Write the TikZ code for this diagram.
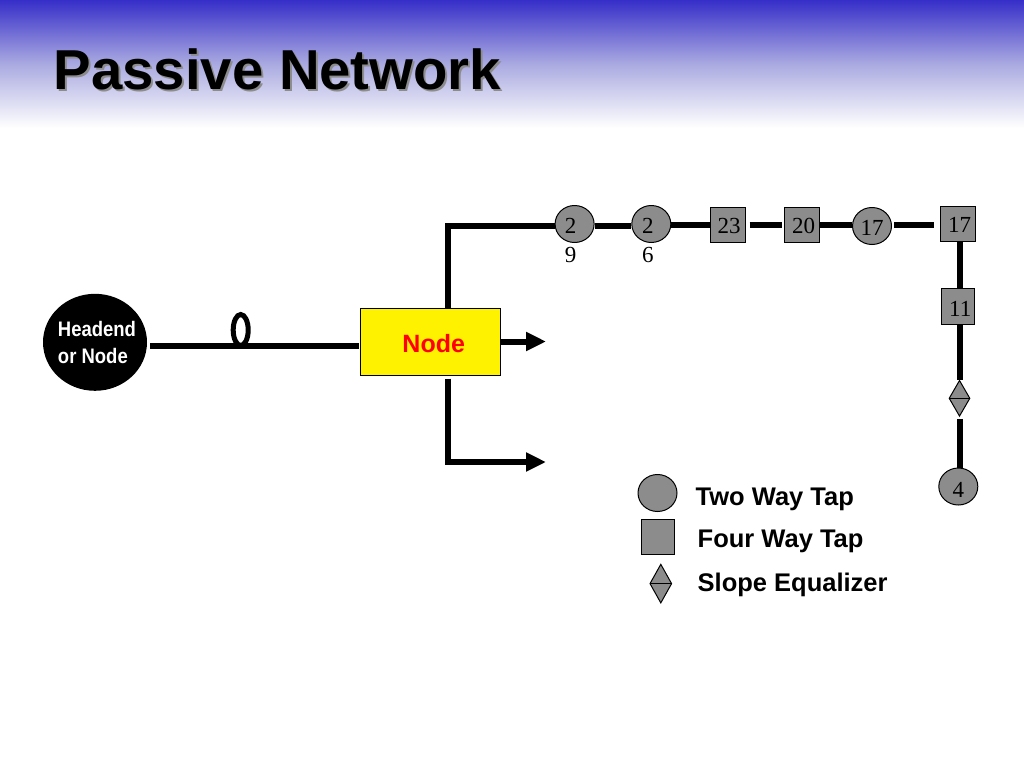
\documentclass[tikz,border=0pt]{standalone}
\usepackage{fontspec}
\setmainfont{Liberation Serif}
\setsansfont{Liberation Sans}
\usetikzlibrary{arrows.meta,shapes.geometric}
\definecolor{tapgray}{RGB}{140,140,140}
\definecolor{bandblue}{RGB}{54,46,200}
\definecolor{bandmid}{RGB}{170,170,225}
\providecommand{\titlefontsize}{\fontsize{56.3pt}{60pt}\selectfont}
\providecommand{\legendfontsize}{\fontsize{25.5pt}{28pt}\selectfont}
\providecommand{\hubfontsize}{\fontsize{25pt}{28pt}\selectfont}
\providecommand{\headfontsize}{\fontsize{21pt}{26.5pt}\selectfont}
\providecommand{\tapfontsize}{\fontsize{23pt}{23pt}\selectfont}
\tikzset{
  wire/.style={line width=6pt},
  feedarrow/.style={wire,-{Triangle[length=20pt,width=18pt]}},
  tapcircle/.style={ellipse,draw,line width=1pt,fill=tapgray,inner sep=0,minimum width=39pt,minimum height=37pt,font=\tapfontsize,text height=18.5pt,text depth=0pt},
  tapsquare/.style={rectangle,draw,line width=1pt,fill=tapgray,inner sep=0,minimum width=35pt,minimum height=35pt,font=\tapfontsize,text height=18.5pt,text depth=0pt},
  eqdiamond/.style={diamond,draw,line width=1pt,fill=tapgray,inner sep=0,minimum width=21pt,minimum height=36pt,
    path picture={\draw[line width=1pt] (path picture bounding box.west) -- (path picture bounding box.east);}},
  legendtext/.style={anchor=base west,inner sep=0,font=\legendfontsize\sffamily\bfseries},
  titletext/.style={anchor=base west,inner sep=0,font=\titlefontsize\sffamily\bfseries},
  tapunder/.style={font=\tapfontsize,inner sep=0,anchor=base},
}
\begin{document}
\begin{tikzpicture}[x=1pt,y=-1pt]
    \pgfmathsetmacro{\bandheight}{128}
    \useasboundingbox (0,0) rectangle (1024,768);
    \shade[top color=bandblue,bottom color=white,middle color=bandmid] (0,0) rectangle (1024,\bandheight);
    % title with its shadow
    \node[titletext,text=black!45] (titleshade) at (55.5,91) {Passive Network};
    \node[titletext] (title) at (53.5,89) {Passive Network};
    % headend and node
    \node[ellipse,fill=black,inner xsep=-8pt,inner ysep=-6pt,minimum width=104pt,minimum height=97pt,text=white,align=left,font=\headfontsize\sffamily\bfseries,yshift=-.8pt] (head) at (95,341.5)
      {\hspace{4pt}\scalebox{.88}[1]{Headend}\\\hspace{4pt}\scalebox{.88}[1]{or Node}};
    \node[rectangle,draw,line width=1pt,fill=yellow,inner sep=0,minimum width=140pt,minimum height=67pt,text=red,font=\hubfontsize\sffamily\bfseries,text height=22pt,text depth=0pt] (hub) at (430.7,341.5)
      {\hspace{6pt}Node};
    \node[ellipse,draw,line width=5pt,inner sep=0,minimum width=15pt,minimum height=31pt] (loop) at (240.7,330) {};
    % taps along the line
    \node[tapcircle,label={[tapunder]below:{\raisebox{-19.2pt}{\hspace{-8pt}9}}}] (c29) at (574.6,224) {\hspace{-8pt}2};
    \node[tapcircle,label={[tapunder]below:{\raisebox{-19.2pt}{\hspace{-7pt}6}}}] (c26) at (651.3,224) {\hspace{-7pt}2};
    \node[tapsquare] (s23) at (728,224.5) {\hspace{2pt}23};
    \node[tapsquare] (s20) at (801.5,224.5) {\hspace{4pt}20};
    \node[tapcircle] (c17) at (872,226) {17};
    \node[tapsquare] (s17) at (958,223.5) {\hspace{3pt}17};
    \node[tapsquare,minimum width=33pt,minimum height=36pt] (s11) at (958.3,306.8) {\hspace{4pt}11};
    \node[eqdiamond] (eq) at (959.5,398.3) {};
    \node[tapcircle,text height=22.5pt] (c4) at (958.3,486.5) {4};
    % bends and free ends
    \coordinate (topbend) at (448,226);
    \coordinate (botbend) at (448,462);
    \coordinate (botend) at (546,462);
    \coordinate (hubend) at (546,341.5);
    \coordinate (feed) at (240,345.7);
    \coordinate (row) at (800,225);
    \coordinate (riser) at (960,300);
    \draw[wire,shorten <=3pt,shorten >=1.5pt] (head.east |- feed) -- (hub.west |- feed);
    \draw[wire] (hub.north -| topbend) -- (topbend) -- (c29.west |- topbend);
    \draw[feedarrow] (hub.east) -- (hubend);
    \draw[feedarrow,shorten <=3pt] (hub.south -| botbend) -- (botbend) -- (botend);
    \draw[wire] (c29.east |- topbend) -- (c26.west |- topbend);
    \draw[wire] (c26.east |- row) -- (s23.west |- row);
    \draw[wire,shorten <=3.5pt,shorten >=2pt] (s23.east |- row) -- (s20.west |- row);
    \draw[wire] (s20.east |- row) -- (c17.west |- row);
    \draw[wire,shorten <=2pt,shorten >=6pt] (c17.east |- row) -- (s17.west |- row);
    \draw[wire] (s17.south -| riser) -- (s11.north -| riser);
    \draw[wire] (s11.south -| riser) -- (eq.north -| riser);
    \draw[wire,shorten <=2pt] (eq.south -| riser) -- (c4.north -| riser);
    % legend
    \node[tapcircle] (keycircle) at (657.5,493) {};
    \node[tapsquare,minimum width=32.5pt] (keysquare) at (658,537) {};
    \node[eqdiamond,minimum width=22pt,minimum height=39pt] (keydiamond) at (660.8,583.6) {};
    \node[legendtext] (keytwo) at (695.5,505) {Two Way Tap};
    \node[legendtext] (keyfour) at (697.5,547.8) {Four Way Tap};
    \node[legendtext] (keyslope) at (697.5,591.8) {Slope Equalizer};
\end{tikzpicture}
\end{document}
